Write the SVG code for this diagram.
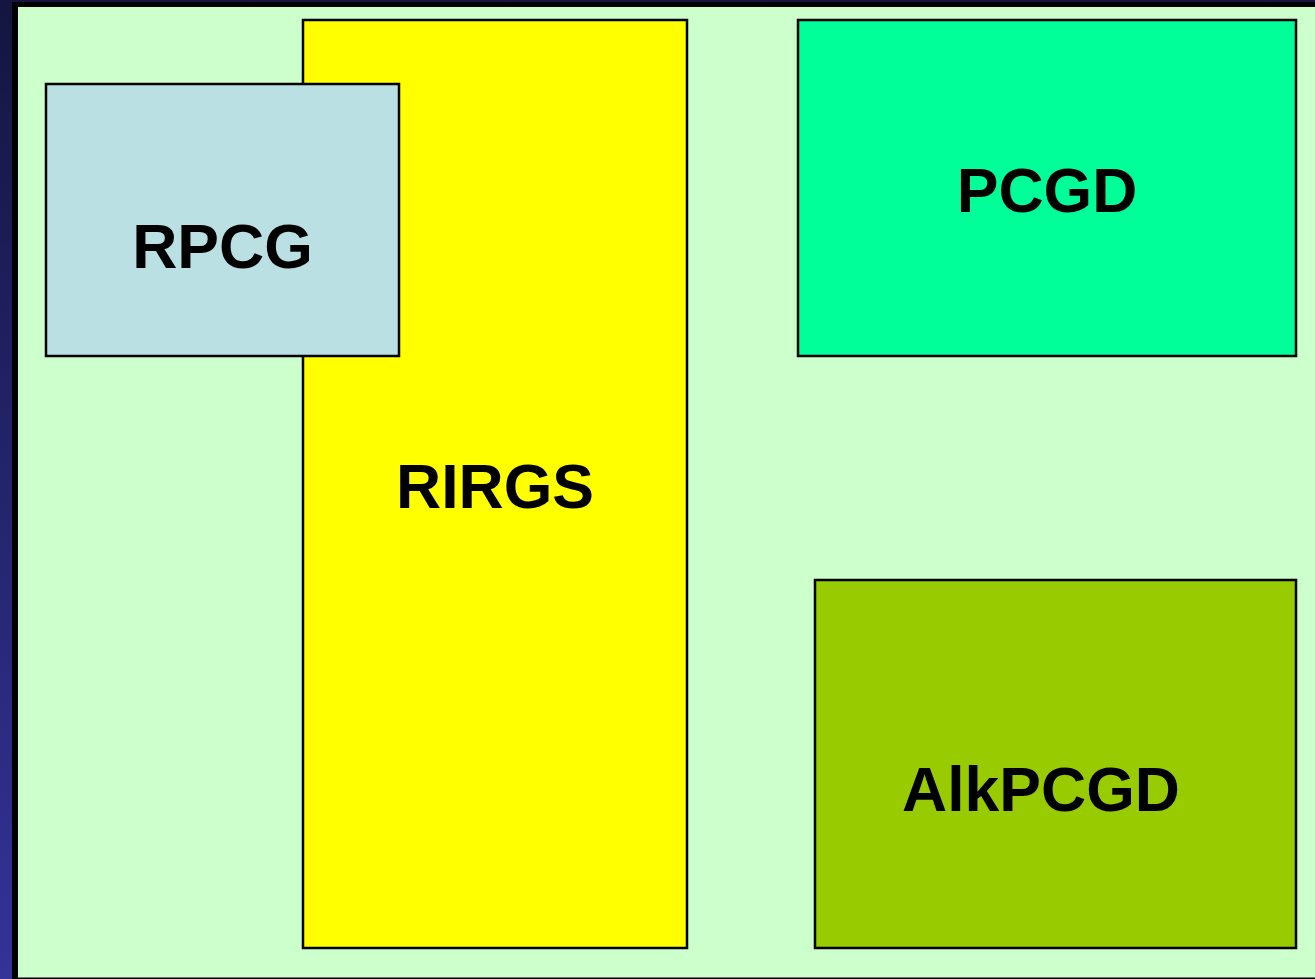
<svg xmlns="http://www.w3.org/2000/svg" width="1315" height="979" viewBox="0 0 1315 979">
<defs>
<linearGradient id="side" x1="0" y1="0" x2="0" y2="1">
<stop offset="0" stop-color="#151540"/>
<stop offset="1" stop-color="#333399"/>
</linearGradient>
</defs>
<style>
.box{stroke:#000;stroke-width:2.5}
.lbl{font-family:"Liberation Sans",Arial,sans-serif;font-weight:bold;font-size:62.5px;fill:#000;text-anchor:middle}
</style>
<rect x="0" y="0" width="1315" height="979" fill="url(#side)"/>
<rect x="12" y="2" width="1303" height="977" fill="#000"/>
<rect x="18" y="7" width="1297" height="970" fill="#ccffcc"/>
<line x1="18" y1="977.5" x2="1315" y2="977.5" stroke="#667766" stroke-width="1"/>
<g id="RIRGS"><rect class="box" x="303" y="20" width="384" height="928" fill="#ffff00"/><text class="lbl" x="495" y="508">RIRGS</text></g>
<g id="RPCG"><rect class="box" x="46" y="84" width="353" height="272" fill="#bbe0e3"/><text class="lbl" x="222.5" y="268">RPCG</text></g>
<g id="PCGD"><rect class="box" x="798" y="20" width="498" height="336" fill="#00ff99"/><text class="lbl" x="1047" y="212">PCGD</text></g>
<g id="AlkPCGD"><rect class="box" x="815" y="580" width="481" height="368" fill="#99cc00"/><text class="lbl" x="1041" y="811">AlkPCGD</text></g>
<g id="connectors"/>
</svg>
